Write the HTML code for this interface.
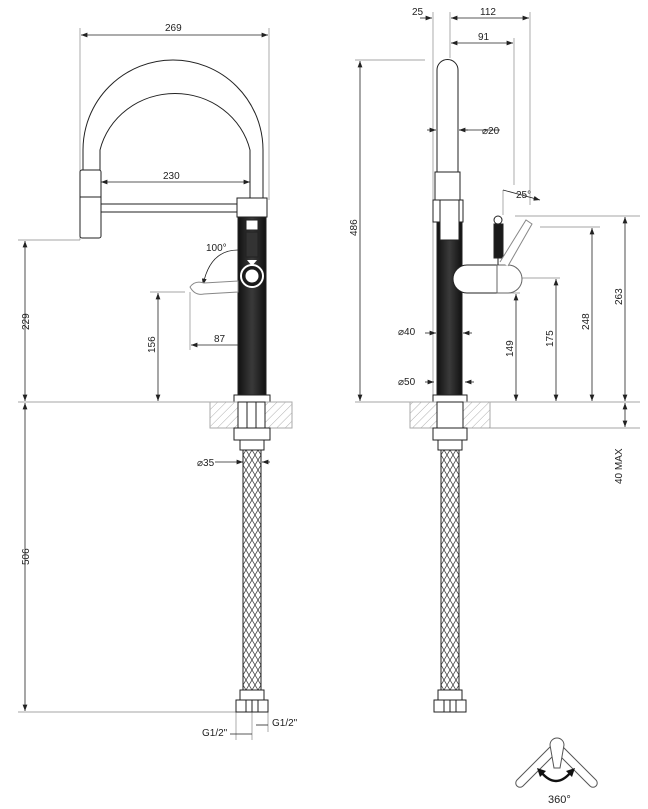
<!DOCTYPE html>
<html><head><meta charset="utf-8"><style>
html,body{margin:0;padding:0;background:#fff;width:648px;height:809px;overflow:hidden}
svg{display:block}
text{font-family:"Liberation Sans",sans-serif;font-size:10px;fill:#222}
</style></head><body>
<svg width="648" height="809" viewBox="0 0 648 809" xmlns="http://www.w3.org/2000/svg">
<defs>
<pattern id="h" width="6" height="6" patternUnits="userSpaceOnUse" patternTransform="rotate(45)">
<line x1="0" y1="0" x2="0" y2="6" stroke="#999" stroke-width="0.8"/></pattern>
<pattern id="b" width="6" height="10" patternUnits="userSpaceOnUse">
<path d="M0 0L6 10M6 0L0 10" stroke="#444" stroke-width="0.8" fill="none"/></pattern>
<linearGradient id="g" x1="0" x2="1" y1="0" y2="0"><stop offset="0" stop-color="#111"/><stop offset="0.5" stop-color="#3a3a3a"/><stop offset="1" stop-color="#111"/></linearGradient>
<marker id="a" markerWidth="8" markerHeight="6" refX="8" refY="3" orient="auto-start-reverse"><path d="M0 0L8 3L0 6z" fill="#222"/></marker>
</defs>
<g stroke="#888" stroke-width="0.7" fill="none">
<line x1="80" y1="28" x2="80" y2="240"/><line x1="269" y1="28" x2="269" y2="200"/>
<line x1="18" y1="240" x2="80" y2="240"/><line x1="18" y1="402" x2="210" y2="402"/>
<line x1="18" y1="712" x2="236" y2="712"/>
<line x1="150" y1="292" x2="185" y2="292"/><line x1="190" y1="292" x2="190" y2="350"/>
<line x1="251" y1="182" x2="251" y2="200"/>
<line x1="236" y1="712" x2="236" y2="740"/><line x1="268" y1="712" x2="268" y2="732"/><line x1="252" y1="712" x2="252" y2="740"/>
<line x1="433" y1="12" x2="433" y2="400"/><line x1="450" y1="12" x2="450" y2="58"/><line x1="530" y1="12" x2="530" y2="205"/><line x1="514" y1="38" x2="514" y2="185"/>
<line x1="355" y1="60" x2="425" y2="60"/><line x1="355" y1="402" x2="410" y2="402"/><line x1="490" y1="402" x2="640" y2="402"/><line x1="490" y1="428" x2="640" y2="428"/>
<line x1="515" y1="216" x2="640" y2="216"/><line x1="540" y1="227" x2="600" y2="227"/><line x1="520" y1="278" x2="560" y2="278"/><line x1="500" y1="293" x2="520" y2="293"/>
<line x1="503" y1="190" x2="503" y2="215"/>
</g>
<g stroke="#222" stroke-width="0.8" fill="none" marker-start="url(#a)" marker-end="url(#a)">
<line x1="81" y1="35" x2="268" y2="35"/>
<line x1="101" y1="182" x2="250" y2="182"/>
<line x1="25" y1="241" x2="25" y2="401"/>
<line x1="25" y1="403" x2="25" y2="711"/>
<line x1="158" y1="293" x2="158" y2="401"/>
<line x1="191" y1="345" x2="250" y2="345"/>
<line x1="451" y1="18" x2="529" y2="18"/>
<line x1="451" y1="43" x2="513" y2="43"/>
<line x1="360" y1="61" x2="360" y2="401"/>
<line x1="516" y1="294" x2="516" y2="401"/>
<line x1="556" y1="279" x2="556" y2="401"/>
<line x1="592" y1="228" x2="592" y2="401"/>
<line x1="625" y1="217" x2="625" y2="401"/>
<line x1="625" y1="403" x2="625" y2="427"/>
</g>
<g stroke="#222" stroke-width="0.8" fill="none">
<line x1="420" y1="18" x2="432" y2="18" marker-end="url(#a)"/>
<line x1="236" y1="462" x2="243" y2="462" marker-end="url(#a)"/><line x1="270" y1="462" x2="262" y2="462" marker-end="url(#a)"/>
<line x1="215" y1="462" x2="236" y2="462"/>
<line x1="256" y1="725" x2="268" y2="725"/><line x1="230" y1="734" x2="252" y2="734"/>
<line x1="427" y1="130" x2="436" y2="130" marker-end="url(#a)"/><line x1="468" y1="130" x2="459" y2="130" marker-end="url(#a)"/><line x1="459" y1="130" x2="500" y2="130"/>
<line x1="425" y1="333" x2="436" y2="333" marker-end="url(#a)"/><line x1="472" y1="333" x2="463" y2="333" marker-end="url(#a)"/>
<line x1="425" y1="382" x2="434" y2="382" marker-end="url(#a)"/><line x1="474" y1="382" x2="465" y2="382" marker-end="url(#a)"/>
<path d="M503 190 L540 200" marker-end="url(#a)"/>
<path d="M238 250 Q210 250 203 285" marker-end="url(#a)"/>
</g>
<g stroke="#222" stroke-width="1" fill="#fff">
<path d="M83 172 L83 150 A90 90 0 0 1 263 150 L263 198 L250 198 L250 150 A77 73 0 0 0 100 150 L100 172"/>
<rect x="80" y="170" width="21" height="68" rx="2"/>
<line x1="80" y1="197" x2="101" y2="197"/>
<rect x="101" y="204" width="137" height="8"/>
<rect x="237" y="198" width="30" height="19"/>
<rect x="238" y="217" width="28" height="178" fill="url(#g)"/>
<rect x="246" y="220" width="12" height="10" fill="#fff"/>
<rect x="246" y="232" width="12" height="25" fill="#333"/>
<circle cx="252" cy="276" r="11" stroke="#fff" stroke-width="2" fill="#1a1a1a"/>
<circle cx="252" cy="276" r="7" fill="#fff"/>
<path d="M247 260 L257 260 L252 266z" fill="#fff" stroke="none"/>
<path d="M190 287 Q195 280 204 283 L238 281 L238 292 L204 294 Q195 296 190 287z" stroke="#888"/>
<rect x="234" y="395" width="36" height="7"/>
<rect x="210" y="402" width="82" height="26" fill="url(#h)" stroke="#aaa"/>
<rect x="238" y="402" width="27" height="26"/>
<line x1="247" y1="402" x2="247" y2="428"/><line x1="256" y1="402" x2="256" y2="428"/>
<rect x="234" y="428" width="36" height="12"/>
<rect x="240" y="440" width="24" height="10"/>
<rect x="243" y="450" width="18" height="240" fill="url(#b)"/>
<rect x="240" y="690" width="24" height="10"/>
<rect x="236" y="700" width="32" height="12"/>
<line x1="246" y1="700" x2="246" y2="712"/><line x1="252" y1="700" x2="252" y2="712"/><line x1="258" y1="700" x2="258" y2="712"/>
</g>
<g stroke="#222" stroke-width="1" fill="#fff">
<path d="M437 175 L437 70 A10.5 10.5 0 0 1 458 70 L458 175z"/>
<rect x="435" y="172" width="25" height="28"/>
<rect x="433" y="200" width="30" height="22"/>
<rect x="437" y="222" width="25" height="173" fill="url(#g)"/>
<rect x="440" y="200" width="19" height="40"/>
<path d="M467 265 L497 265 L497 293 L467 293 A14 14 0 0 1 467 265z"/>
<path d="M497 265 L508 265 A14 14 0 0 1 508 293 L497 293z" stroke="#666"/>
<circle cx="498" cy="220" r="4"/>
<rect x="494" y="224" width="9" height="34" fill="#1a1a1a"/>
<line x1="498" y1="258" x2="498" y2="265"/>
<path d="M500 262 L526 220 L532 224 L508 266" stroke="#888"/>
<rect x="433" y="395" width="34" height="7"/>
<rect x="410" y="402" width="80" height="26" fill="url(#h)" stroke="#aaa"/>
<rect x="437" y="402" width="26" height="26"/>
<rect x="433" y="428" width="34" height="12"/>
<rect x="438" y="440" width="24" height="10"/>
<rect x="441" y="450" width="18" height="240" fill="url(#b)"/>
<rect x="438" y="690" width="24" height="10"/>
<rect x="434" y="700" width="32" height="12"/>
<line x1="444" y1="700" x2="444" y2="712"/><line x1="450" y1="700" x2="450" y2="712"/><line x1="456" y1="700" x2="456" y2="712"/>
</g>
<g stroke="#555" stroke-width="1" fill="#fff">
<path d="M517 780 L552 745 L558 751 L523 786 A4 4 0 0 1 517 780z"/>
<path d="M596 780 L561 745 L555 751 L590 786 A4 4 0 0 0 596 780z"/>
<path d="M550 745 A7 7 0 0 1 564 745 L560 768 L554 768z"/>
</g>
<path d="M541 772 Q556 790 571 772" stroke="#111" stroke-width="2.5" fill="none"/>
<path d="M537 768 L546 771 L540 777z M575 768 L566 771 L572 777z" fill="#111"/>
<text x="165" y="31">269</text>
<text x="163" y="179">230</text>
<text x="206" y="251">100°</text>
<text x="214" y="342">87</text>
<text x="197" y="466">⌀35</text>
<text x="272" y="726">G1/2"</text>
<text x="202" y="736">G1/2"</text>
<text x="548" y="803" style="font-size:11px">360°</text>
<text x="412" y="15">25</text>
<text x="480" y="15">112</text>
<text x="478" y="40">91</text>
<text x="482" y="134">⌀20</text>
<text x="516" y="198">25°</text>
<text x="398" y="335">⌀40</text>
<text x="398" y="385">⌀50</text>
<g style="font-size:10px">
<text transform="translate(29,330) rotate(-90)">229</text>
<text transform="translate(29,565) rotate(-90)">506</text>
<text transform="translate(155,353) rotate(-90)">156</text>
<text transform="translate(357,236) rotate(-90)">486</text>
<text transform="translate(513,357) rotate(-90)">149</text>
<text transform="translate(553,347) rotate(-90)">175</text>
<text transform="translate(589,330) rotate(-90)">248</text>
<text transform="translate(622,305) rotate(-90)">263</text>
<text transform="translate(622,484) rotate(-90)">40 MAX</text>
</g>
</svg>
</body></html>
